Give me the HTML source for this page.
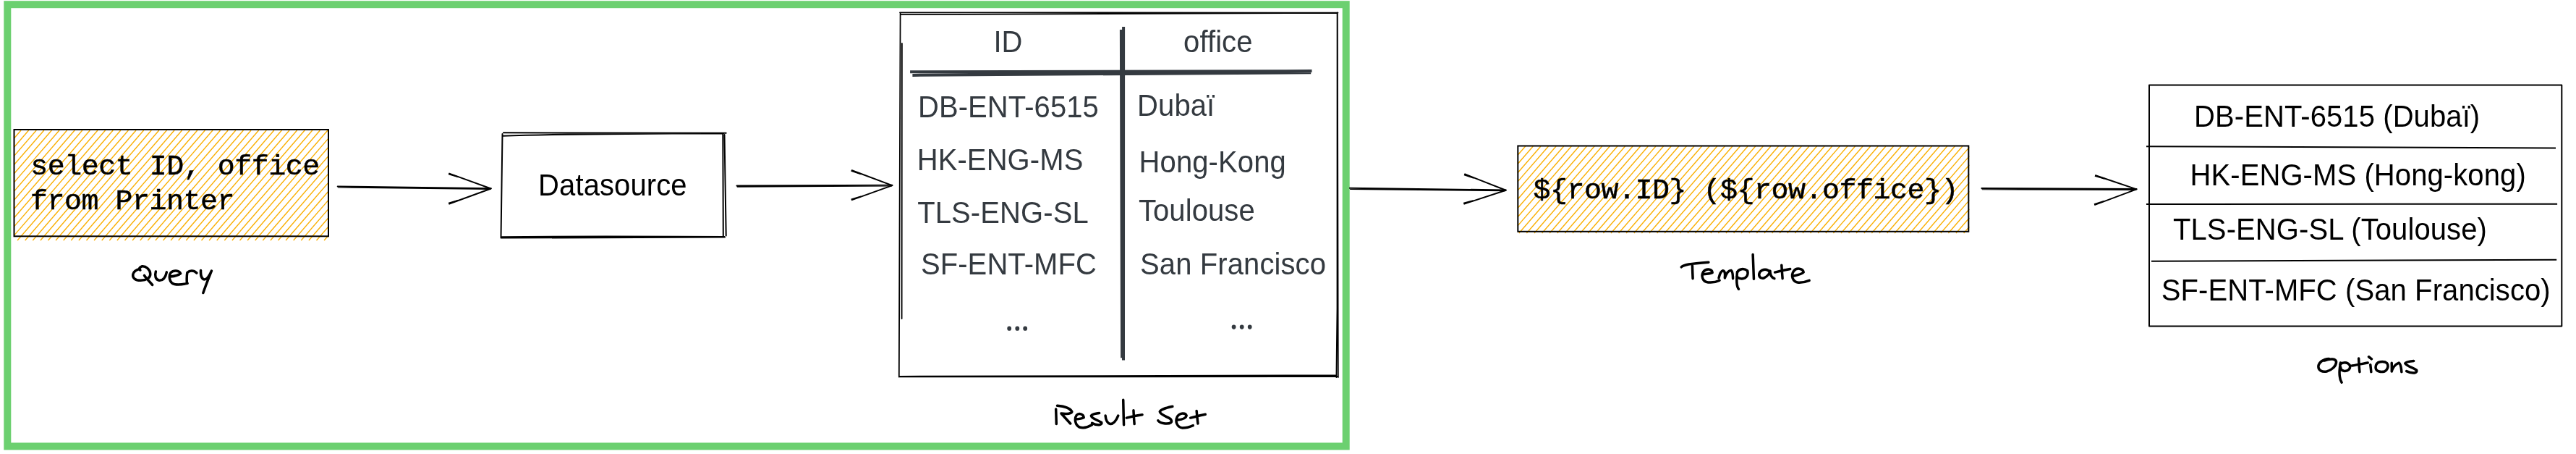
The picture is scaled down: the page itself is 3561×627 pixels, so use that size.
<!DOCTYPE html>
<html><head><meta charset="utf-8">
<style>
html,body{margin:0;padding:0;background:#fff;width:3561px;height:627px;overflow:hidden}
svg{display:block;will-change:transform}
.s{font-family:"Liberation Sans",sans-serif;font-size:40px;letter-spacing:0.1px}
.m{font-family:"Liberation Mono",monospace;font-size:40px;letter-spacing:-0.5px;stroke:#000;stroke-width:0.5px}
.g{fill:#343a40}
.k{fill:#000}
.ln{fill:none;stroke:#000;stroke-width:2;stroke-linecap:round;stroke-linejoin:round}
.ar{fill:none;stroke:#000;stroke-width:2;stroke-linecap:round;stroke-linejoin:round}
.hw{fill:none;stroke:#000;stroke-width:3.5;stroke-linecap:round;stroke-linejoin:round}
.ht{fill:none;stroke:#fab005;stroke-width:1.4}
</style></head>
<body>
<svg width="3561" height="627" viewBox="0 0 3561 627">
<rect x="10.3" y="6.2" width="1850.4" height="610.2" fill="none" stroke="#6cd070" stroke-width="10"/>
<path class="ht" d="M19.5 191.0 L29.0 180.0 M19.5 203.2 L39.6 180.0 M19.5 215.4 L50.2 180.0 M19.5 227.5 L60.8 180.0 M19.5 239.7 L71.4 180.0 M19.5 251.9 L82.0 180.0 M19.5 264.1 L92.6 180.0 M19.5 276.3 L103.2 180.0 M19.5 288.5 L113.8 180.0 M19.5 300.7 L124.4 180.0 M19.5 312.9 L135.0 180.0 M19.5 325.1 L145.6 180.0 M24.1 332.0 L156.2 180.0 M34.7 332.0 L166.8 180.0 M45.3 332.0 L177.4 180.0 M55.9 332.0 L188.0 180.0 M66.5 332.0 L198.6 180.0 M77.1 332.0 L209.2 180.0 M87.7 332.0 L219.8 180.0 M98.3 332.0 L230.4 180.0 M108.9 332.0 L241.0 180.0 M119.5 332.0 L251.6 180.0 M130.1 332.0 L262.2 180.0 M140.7 332.0 L272.8 180.0 M151.3 332.0 L283.4 180.0 M161.9 332.0 L294.0 180.0 M172.5 332.0 L304.6 180.0 M183.1 332.0 L315.2 180.0 M193.7 332.0 L325.8 180.0 M204.3 332.0 L336.4 180.0 M214.9 332.0 L347.0 180.0 M225.5 332.0 L357.6 180.0 M236.1 332.0 L368.2 180.0 M246.7 332.0 L378.8 180.0 M257.3 332.0 L389.4 180.0 M267.9 332.0 L400.0 180.0 M278.5 332.0 L410.6 180.0 M289.1 332.0 L421.2 180.0 M299.7 332.0 L431.8 180.0 M310.3 332.0 L442.4 180.0 M320.9 332.0 L453.0 180.0 M331.5 332.0 L454.0 191.1 M342.1 332.0 L454.0 203.3 M352.7 332.0 L454.0 215.5 M363.3 332.0 L454.0 227.7 M373.9 332.0 L454.0 239.9 M384.5 332.0 L454.0 252.1 M395.1 332.0 L454.0 264.2 M405.7 332.0 L454.0 276.4 M416.3 332.0 L454.0 288.6 M426.9 332.0 L454.0 300.8 M437.5 332.0 L454.0 313.0 M448.1 332.0 L454.0 325.2"/>
<rect x="19.5" y="179" width="434.5" height="147.3" fill="none" stroke="#000" stroke-width="2"/>
<text class="m k" transform="translate(42.2 240.7) scale(1 0.95)">select ID, office</text>
<text class="m k" transform="translate(42 289.2) scale(1 0.95)">from Printer</text>
<path class="ar" d="M466.7 257.4 L678.7 260.2 M467.7 258.6 L677.7 261.0"/><path class="ar" style="stroke-linecap:butt" d="M620.4 239.4 L678.7 260.5 L620.4 281.7"/><path class="ar" style="stroke-linecap:butt" d="M620.1 240.3 L633.5 244.4 M620.1 280.8 L633.5 276.6"/>
<path class="ln" d="M696 183.3 L1003.7 183.8 M694.5 187.8 C760 185.5 850 184.5 1000 184.2 M694.5 185 L692.5 328.5 M692.5 328.6 L1002 327.6 M694 327.2 C800 326 900 326.5 1001 327 M999.3 184 L999.8 327.5 M1001.5 186 L1003.7 325.5"/>
<text class="s k" transform="translate(744.1 270) scale(1 1.04)">Datasource</text>
<path class="ar" d="M1018.5 256.5 L1233.4 255.8 M1019.5 257.7 L1232.4 256.6"/><path class="ar" style="stroke-linecap:butt" d="M1177.0 235.0 L1233.4 256.1 L1177.0 276.4"/><path class="ar" style="stroke-linecap:butt" d="M1176.6 235.9 L1190.0 240.2 M1176.7 275.5 L1190.1 271.4"/>
<path class="ln" style="stroke-width:1.8" d="M1244 17.3 L1849.5 17.6 M1246 20.2 Q1550 19.6 1849 17.8 M1244.6 17.5 L1242.8 520.5 M1246.9 60 L1246.6 440 M1848.6 17.5 L1848.5 426 L1847.4 521 M1848.8 17.5 L1849.8 521 M1243 520.4 L1850 520.2 M1243 519.8 Q1550 518.8 1846 518.3"/>
<path d="M1258.1 99.2 L1813.5 98.1 M1261.4 103.9 L1812.2 100.2" stroke="#343a40" stroke-width="4" fill="none"/>
<path d="M1549.9 40.9 L1551.1 494.2 M1553.1 36.9 L1553 497.6" stroke="#343a40" stroke-width="4" fill="none"/>
<text class="s g" transform="translate(1373.4 72) scale(1 1.04)">ID</text>
<text class="s g" transform="translate(1636.1 72) scale(1 1.04)">office</text>
<text class="s g" transform="translate(1268.9 161.5) scale(1 1.04)">DB-ENT-6515</text>
<text class="s g" transform="translate(1572.1 160) scale(1 1.04)">Dubaï</text>
<text class="s g" transform="translate(1267.7 235) scale(1 1.04)">HK-ENG-MS</text>
<text class="s g" transform="translate(1574.6 238) scale(1 1.04)">Hong-Kong</text>
<text class="s g" transform="translate(1268.2 307.5) scale(1 1.04)">TLS-ENG-SL</text>
<text class="s g" transform="translate(1573.9 304.5) scale(1 1.04)">Toulouse</text>
<text class="s g" transform="translate(1272.9 379) scale(1 1.04)">SF-ENT-MFC</text>
<text class="s g" transform="translate(1576.1 378.5) scale(1 1.04)">San Francisco</text>
<ellipse cx="1395.2" cy="453.7" rx="2.9" ry="3.1" fill="#343a40"/><ellipse cx="1406.3" cy="453.7" rx="2.9" ry="3.1" fill="#343a40"/><ellipse cx="1417.2" cy="453.7" rx="2.9" ry="3.1" fill="#343a40"/><ellipse cx="1705.6" cy="451.6" rx="2.9" ry="3.1" fill="#343a40"/><ellipse cx="1716.7" cy="451.6" rx="2.9" ry="3.1" fill="#343a40"/><ellipse cx="1727.7" cy="451.6" rx="2.9" ry="3.1" fill="#343a40"/>
<path class="ar" d="M1865.9 259.7 L2081.7 262.5 M1866.9 260.9 L2080.7 263.3"/><path class="ar" style="stroke-linecap:butt" d="M2024.4 240.3 L2081.7 262.8 L2023.5 281.7"/><path class="ar" style="stroke-linecap:butt" d="M2024.0 241.2 L2037.3 245.7 M2023.2 280.7 L2036.7 277.1"/>
<path class="ht" d="M2098.0 214.3 L2108.7 202.0 M2098.0 226.5 L2119.3 202.0 M2098.0 238.7 L2129.9 202.0 M2098.0 250.9 L2140.5 202.0 M2098.0 263.1 L2151.1 202.0 M2098.0 275.3 L2161.7 202.0 M2098.0 287.5 L2172.3 202.0 M2098.0 299.7 L2182.9 202.0 M2098.0 311.9 L2193.5 202.0 M2099.8 322.0 L2204.1 202.0 M2110.4 322.0 L2214.7 202.0 M2121.0 322.0 L2225.3 202.0 M2131.6 322.0 L2235.9 202.0 M2142.2 322.0 L2246.5 202.0 M2152.8 322.0 L2257.1 202.0 M2163.4 322.0 L2267.7 202.0 M2174.0 322.0 L2278.3 202.0 M2184.6 322.0 L2288.9 202.0 M2195.2 322.0 L2299.5 202.0 M2205.8 322.0 L2310.1 202.0 M2216.4 322.0 L2320.7 202.0 M2227.0 322.0 L2331.3 202.0 M2237.6 322.0 L2341.9 202.0 M2248.2 322.0 L2352.5 202.0 M2258.8 322.0 L2363.1 202.0 M2269.4 322.0 L2373.7 202.0 M2280.0 322.0 L2384.3 202.0 M2290.6 322.0 L2394.9 202.0 M2301.2 322.0 L2405.5 202.0 M2311.8 322.0 L2416.1 202.0 M2322.4 322.0 L2426.7 202.0 M2333.0 322.0 L2437.3 202.0 M2343.6 322.0 L2447.9 202.0 M2354.2 322.0 L2458.5 202.0 M2364.8 322.0 L2469.1 202.0 M2375.4 322.0 L2479.7 202.0 M2386.0 322.0 L2490.3 202.0 M2396.6 322.0 L2500.9 202.0 M2407.2 322.0 L2511.5 202.0 M2417.8 322.0 L2522.1 202.0 M2428.4 322.0 L2532.7 202.0 M2439.0 322.0 L2543.3 202.0 M2449.6 322.0 L2553.9 202.0 M2460.2 322.0 L2564.5 202.0 M2470.8 322.0 L2575.1 202.0 M2481.4 322.0 L2585.7 202.0 M2492.0 322.0 L2596.3 202.0 M2502.6 322.0 L2606.9 202.0 M2513.2 322.0 L2617.5 202.0 M2523.8 322.0 L2628.1 202.0 M2534.4 322.0 L2638.7 202.0 M2545.0 322.0 L2649.3 202.0 M2555.6 322.0 L2659.9 202.0 M2566.2 322.0 L2670.5 202.0 M2576.8 322.0 L2681.1 202.0 M2587.4 322.0 L2691.7 202.0 M2598.0 322.0 L2702.3 202.0 M2608.6 322.0 L2712.9 202.0 M2619.2 322.0 L2722.3 203.4 M2629.8 322.0 L2722.3 215.6 M2640.4 322.0 L2722.3 227.8 M2651.0 322.0 L2722.3 240.0 M2661.6 322.0 L2722.3 252.2 M2672.2 322.0 L2722.3 264.4 M2682.8 322.0 L2722.3 276.6 M2693.4 322.0 L2722.3 288.8 M2704.0 322.0 L2722.3 301.0 M2714.6 322.0 L2722.3 313.2"/>
<rect x="2098.3" y="201.5" width="623" height="118.3" fill="none" stroke="#000" stroke-width="2"/>
<text class="m k" transform="translate(2119.6 273.9) scale(1 0.95)">${row.ID} (${row.office})</text>
<path class="ar" d="M2739.4 260.0 L2953.5 261.1 M2740.4 261.2 L2952.5 261.9"/><path class="ar" style="stroke-linecap:butt" d="M2896.2 242.0 L2953.5 261.4 L2895.3 283.1"/><path class="ar" style="stroke-linecap:butt" d="M2895.9 242.9 L2909.4 246.8 M2895.0 282.2 L2908.3 277.9"/>
<path class="ln" d="M2971 117.6 L3541.3 117.6 L3541.3 450.5 L2971 450.5 Z"/>
<path class="ln" style="stroke-linecap:butt" d="M2967 202.2 L3533 204.4 M2967 281.9 L3535.1 281.8 M2974 360.7 L3534.2 358.8"/>
<text class="s k" transform="translate(3033 174.5) scale(1 1.04)">DB-ENT-6515 (Dubaï)</text>
<text class="s k" transform="translate(3027.5 256.3) scale(1 1.04)">HK-ENG-MS (Hong-kong)</text>
<text class="s k" transform="translate(3004 331.2) scale(1 1.04)">TLS-ENG-SL (Toulouse)</text>
<text class="s k" transform="translate(2987.7 415) scale(1 1.04)">SF-ENT-MFC (San Francisco)</text>
<!-- handwritten labels -->
<g transform="translate(175,360) scale(0.08818)"><path class="hw" vector-effect="non-scaling-stroke" d="M215 148 C195 140 185 110 240 88 C300 80 370 140 372 210 C372 270 310 305 220 310 C140 312 90 270 100 215 C110 170 160 140 210 128 M278 232 L300 262 L405 380 M458 170 C440 230 450 300 510 310 C570 315 610 260 628 180"/></g>
<g transform="translate(230,360) scale(0.11006)"><path class="hw" vector-effect="non-scaling-stroke" d="M50 200 C100 195 150 185 178 160 C160 120 90 115 55 150 C30 185 35 250 70 280 C110 310 200 300 265 285 M258 285 C255 240 255 190 262 150 C290 125 340 115 380 155 M432 122 C430 170 430 215 470 235 C510 240 540 190 567 128 C530 220 490 320 462 405"/></g>
<g transform="translate(1450,545) scale(0.12114)"><path class="hw" vector-effect="non-scaling-stroke" d="M80 165 C82 220 84 280 85 335 M95 125 C160 130 240 150 262 192 C270 215 200 225 140 215 L245 330 M305 280 C340 278 380 272 398 262 C395 220 340 205 315 235 C290 270 295 345 350 372 C400 385 450 370 490 345 M575 210 C540 212 490 225 482 242 C490 275 560 290 600 318 C610 345 560 360 492 325 M645 240 C648 280 655 320 700 335 C740 335 770 290 790 240 M848 60 C850 160 852 260 855 345"/></g>
<g transform="translate(1550,545) scale(0.12109)"><path class="hw" vector-effect="non-scaling-stroke" d="M140 180 C142 240 146 290 150 335 M60 265 C120 250 180 238 240 230 M585 135 C520 150 450 165 440 195 C450 235 540 255 565 280 C590 315 560 335 500 330 C460 325 430 310 420 295 M640 290 C690 285 740 270 745 240 C735 205 670 205 640 250 C610 310 640 375 700 380 C750 380 790 365 820 352 M860 185 C865 240 870 290 875 330 M790 265 C850 250 910 235 960 225"/></g>
<g transform="translate(2315,345) scale(0.1321)"><path class="hw" vector-effect="non-scaling-stroke" d="M70 180 C100 155 150 145 355 130 M185 165 C186 210 188 260 190 300 M300 255 C340 252 380 248 395 238 C390 200 330 190 300 230 C275 270 290 335 350 340 C400 345 440 335 470 320 M462 295 C470 260 480 225 505 218 C530 220 528 260 525 295 C540 250 560 215 590 215 C610 225 608 270 610 300 M655 230 C650 280 648 330 652 360 C655 385 660 400 670 410"/></g>
<g transform="translate(2400,345) scale(0.1322)"><path class="hw" vector-effect="non-scaling-stroke" d="M15 230 C30 200 80 190 118 218 C130 260 110 300 60 302 C30 300 15 290 10 280 M175 50 C178 140 182 230 185 305 M352 232 C330 200 280 195 250 230 C225 270 250 305 290 295 C330 280 350 240 355 220 C355 260 365 290 400 300 M475 160 C478 210 482 260 485 300 M405 235 C460 220 520 208 565 200 M592 275 C640 265 690 255 705 235 C700 195 630 180 600 225 C570 270 590 335 650 342 C700 345 740 330 765 320"/></g>
<g transform="translate(3180,470) scale(0.13219)"><path class="hw" vector-effect="non-scaling-stroke" d="M300 192 C240 195 190 230 188 275 C188 315 230 335 275 325 C330 310 375 270 375 225 C372 195 320 185 250 212 M420 235 C410 290 405 340 412 380 C415 410 425 430 432 440 M415 250 C440 230 490 220 518 262 C525 300 500 325 455 320 C430 315 420 295 420 280 M610 190 C612 240 615 290 620 330 M540 265 C600 255 650 245 705 235 M732 255 C735 280 738 305 740 330 M715 172 L745 195 M835 225 C800 230 780 260 790 300 C800 325 840 335 880 325 C915 305 925 265 905 238 C885 220 855 222 835 225 M955 237 C956 270 956 300 955 325 C965 290 990 250 1030 235 C1050 245 1055 290 1058 330 M1185 215 C1150 218 1100 225 1095 240 C1110 270 1180 285 1215 312 C1225 340 1180 355 1110 322"/></g>
</svg>
</body></html>
